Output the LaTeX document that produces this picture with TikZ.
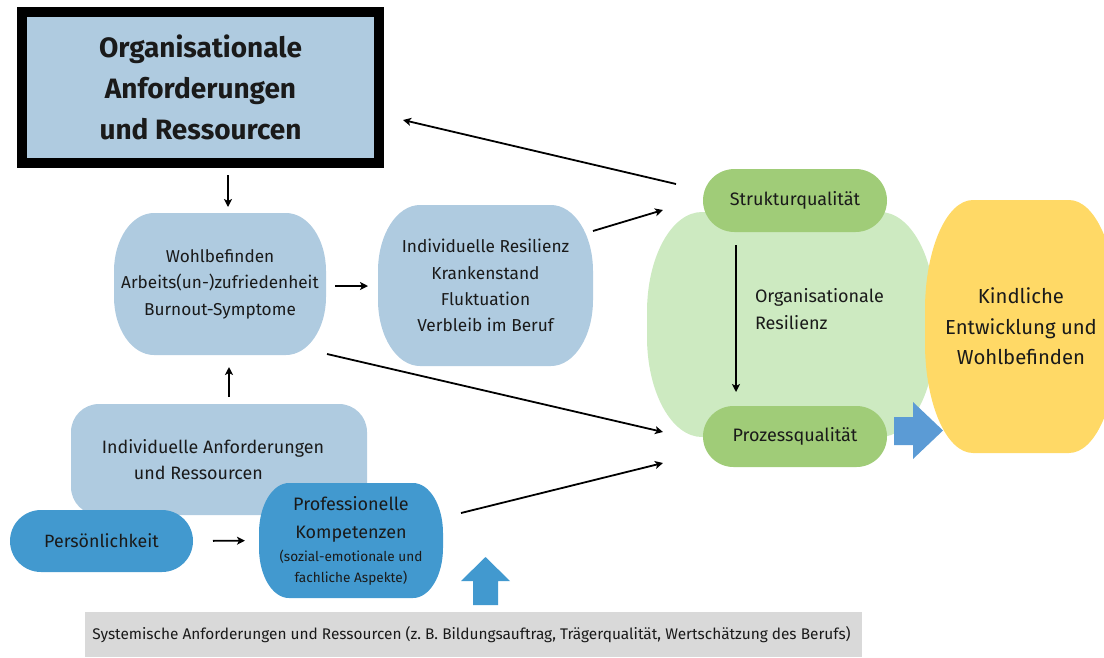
\documentclass[tikz,border=0pt]{standalone}
\usepackage{fontspec}
\setmainfont{Fira Sans}
\usetikzlibrary{arrows.meta}
\definecolor{lblue}{RGB}{175,203,224}
\definecolor{mblue}{RGB}{66,153,207}
\definecolor{ablue}{RGB}{91,155,213}
\definecolor{lgreen}{RGB}{205,234,193}
\definecolor{dgreen}{RGB}{160,204,120}
\definecolor{yel}{RGB}{255,217,102}
\definecolor{gry}{RGB}{217,217,217}
\definecolor{ink}{RGB}{26,26,26}
\newcommand{\softbox}[7]{%
 \fill[#7] ({#1+#5},#2) -- ({#3-#5},#2) .. controls ({#3-0.4477*#5},#2) and (#3,{#2+0.4477*#6}) .. (#3,{#2+#6}) -- (#3,{#4-#6}) .. controls (#3,{#4-0.4477*#6}) and ({#3-0.4477*#5},#4) .. ({#3-#5},#4) -- ({#1+#5},#4) .. controls ({#1+0.4477*#5},#4) and (#1,{#4-0.4477*#6}) .. (#1,{#4-#6}) -- (#1,{#2+#6}) .. controls (#1,{#2+0.4477*#6}) and ({#1+0.4477*#5},#2) .. ({#1+#5},#2) -- cycle;}
\begin{document}
\begin{tikzpicture}[x=1pt,y=-1pt,
  every node/.style={inner sep=0pt,outer sep=0pt},
  lab/.style={align=center,text=ink},
  arr/.style={draw=black,line width=1.8pt,-{Stealth[length=8pt,width=8pt,inset=2pt]}}]
\useasboundingbox (0,0) rectangle (1104,657);
% top box
\node[lab,minimum width=357pt,minimum height=151pt,draw=black,line width=10pt,fill=lblue,
  font=\fontseries{sb}\selectfont\fontsize{28}{41}\selectfont] (top) at (200.5,87.5) {Organisationale\\Anforderungen\\und Ressourcen};
% Wohlbefinden
\softbox{114}{213}{326}{355}{40}{58}{lblue}
\node[lab,minimum width=212pt,minimum height=142pt,font=\fontsize{17.2}{26.5}\selectfont] (wohl) at (220,284)
  {Wohlbefinden\\Arbeits(un-)zufriedenheit\\Burnout-Symptome};
% Individuelle Resilienz
\softbox{378}{205}{593}{366}{42}{66}{lblue}
\node[lab,minimum width=215pt,minimum height=161pt,font=\fontsize{17.3}{26.3}\selectfont] (indres) at (485.5,285.5)
  {Individuelle Resilienz\\Krankenstand\\Fluktuation\\Verbleib im Beruf};
% green organisational block
\softbox{647}{212}{935}{437}{55}{100}{lgreen}
\node[minimum width=288pt,minimum height=225pt] (green) at (791,324.5) {};
\softbox{703}{169}{887}{232}{31.5}{31.5}{dgreen}
\node[lab,minimum width=184pt,minimum height=63pt,font=\fontsize{18}{22}\selectfont] (struktur) at (795,200.5) {Strukturqualität};
\softbox{703}{406}{887}{467}{30.5}{30.5}{dgreen}
\node[lab,minimum width=184pt,minimum height=61pt,font=\fontsize{18}{22}\selectfont] (prozess) at (795,436.5) {Prozessqualität};
\node[align=left,anchor=west,text=ink,font=\fontsize{18}{27}\selectfont] (orgres) at (755,309.5) {Organisationale\\Resilienz};
% yellow
\softbox{925}{200}{1117}{453}{48}{110}{yel}
\node[lab,minimum width=192pt,minimum height=253pt,font=\fontsize{20.3}{30.5}\selectfont] (kind) at (1021,326.5)
  {Kindliche\\Entwicklung und\\Wohlbefinden};
\fill[ablue] (894,417) -- (913,417) -- (913,402) -- (943,430.5) -- (913,459) -- (913,445) -- (894,445) -- cycle;
% individual block
\softbox{71}{404}{367}{515}{28}{28}{lblue}
\node[align=left,text=ink,minimum width=296pt,minimum height=111pt,font=\fontsize{17.9}{26}\selectfont] (indanf) at (219,459.5)
  {Individuelle Anforderungen\hspace*{12pt}\\\hspace*{32pt}und Ressourcen};
\softbox{10}{510}{193}{572}{31}{31}{mblue}
\node[lab,minimum width=183pt,minimum height=62pt,font=\fontsize{17.8}{22}\selectfont] (pers) at (101.5,541) {Persönlichkeit};
\softbox{259}{483}{443}{598}{30}{50}{mblue}
\node[lab,minimum width=184pt,minimum height=115pt,font=\fontsize{18}{28}\selectfont] (prof) at (351,540.5)
  {Professionelle\\Kompetenzen\\[-5pt]{\fontsize{13.6}{21}\selectfont (sozial-emotionale und}\\[-7pt]{\fontsize{13.6}{21}\selectfont fachliche Aspekte)}};
\fill[mblue] (473,605) -- (473,581) -- (461,581) -- (485.5,557) -- (510,581) -- (498,581) -- (498,605) -- cycle;
% bottom bar
\node[lab,fill=gry,minimum width=777pt,minimum height=45pt,font=\fontsize{15.4}{18}\selectfont] (sys) at (473.5,634.5)
  {Systemische Anforderungen und Ressourcen (z.~B. Bildungsauftrag, Trägerqualität, Wertschätzung des Berufs)\hspace*{4pt}};
% connectors
\draw[arr,shorten <=12pt,shorten >=6pt] ([xshift=27.5pt]top.south) -- ([xshift=8pt]wohl.north);
\draw[arr,shorten <=9pt,shorten >=10pt] ([yshift=-2pt]wohl.east) -- ([yshift=-0.5pt]indres.west);
\draw[arr] ([yshift=-26pt]indres.north east) -- ([xshift=16pt,yshift=2pt]green.north west);
\draw[arr] ([xshift=-27pt,yshift=16.5pt]struktur.west) -- ([xshift=24pt,yshift=-32.5pt]top.east);
\draw[arr] ([xshift=1pt,yshift=1pt]wohl.south east) -- ([xshift=-40pt,yshift=4.5pt]prozess.west);
\draw[arr] ([xshift=18pt,yshift=27.5pt]prof.east) -- ([xshift=-40pt,yshift=-26.5pt]prozess.west);
\draw[arr,shorten <=7pt,shorten >=12pt] ([xshift=10pt]indanf.north) -- ([xshift=9pt]wohl.south);
\draw[arr,shorten <=20pt,shorten >=14pt] (pers.east) -- (prof.west);
\draw[arr,shorten <=13pt,shorten >=14pt] ([xshift=-59pt]struktur.south) -- ([xshift=-59pt]prozess.north);
\end{tikzpicture}
\end{document}
